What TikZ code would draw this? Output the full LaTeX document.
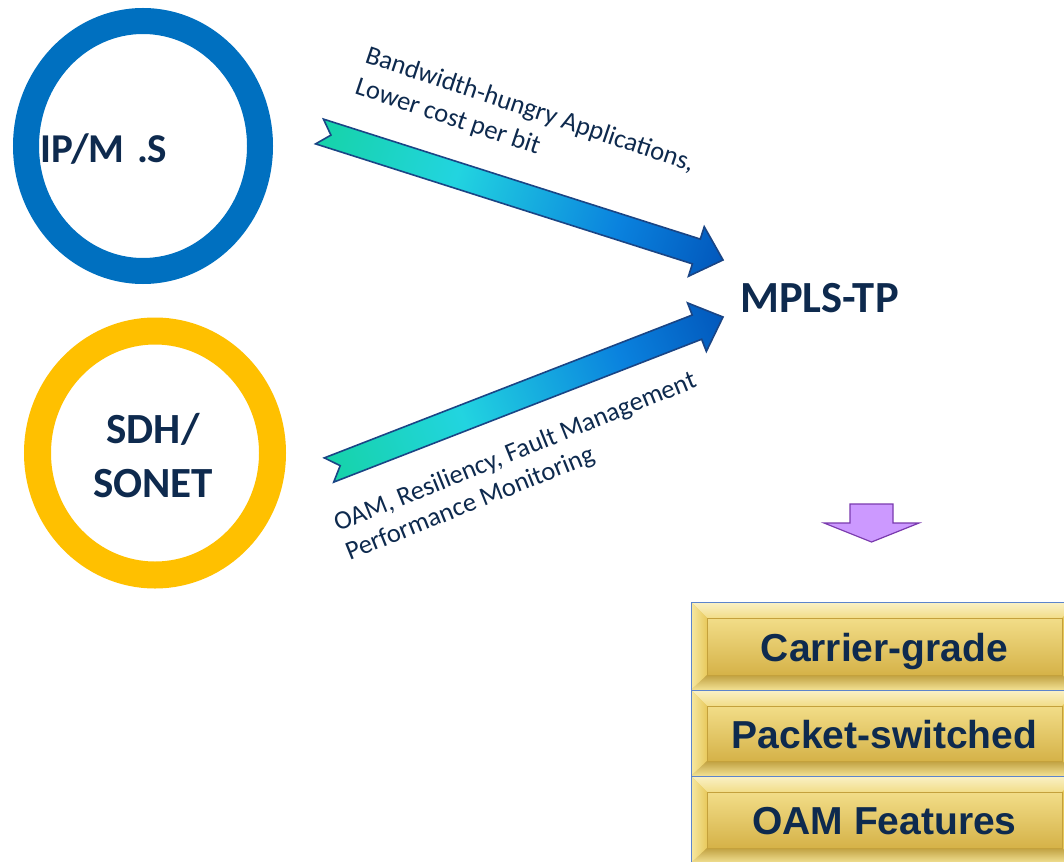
\documentclass[tikz,border=0pt]{standalone}
\usepackage{fontspec}
\usetikzlibrary{shapes.geometric,calc}
\newfontfamily\carlito{Carlito}
\newfontfamily\arialfont{Liberation Sans}

\definecolor{ringblue}{HTML}{0070C0}
\definecolor{ringgold}{HTML}{FFC000}
\definecolor{inkblue}{HTML}{0E2A4E}
\definecolor{gA}{HTML}{16D3A8}
\definecolor{gB}{HTML}{22D4E0}
\definecolor{gC}{HTML}{0A82DE}
\definecolor{gD}{HTML}{0258BC}
\definecolor{flowline}{HTML}{1A4585}
\definecolor{lilac}{HTML}{CC99FF}
\definecolor{lilacline}{HTML}{7A3AAE}
\definecolor{goldhi}{HTML}{F6E8A2}
\definecolor{goldtop}{HTML}{F2DD88}
\definecolor{goldface}{HTML}{E8C95C}
\definecolor{goldlow}{HTML}{D5B248}
\definecolor{goldedge}{HTML}{C4A13C}
\definecolor{boxline}{HTML}{5C84CC}

% colour ramp along the block arrows (path spans 25bp..75bp)
\pgfdeclarehorizontalshading{flowgrad}{100bp}{%
  color(0bp)=(gA); color(25bp)=(gA); color(42bp)=(gB);
  color(62bp)=(gC); color(75bp)=(gD); color(100bp)=(gD)}

\tikzset{
  ring/.style={ellipse, inner sep=0pt, fill=none},
  ringlabel/.style={font=\carlito\bfseries\fontsize{#1}{#1}\selectfont, text=inkblue, inner sep=0pt},
  note/.style={font=\carlito\fontsize{26.5}{32}\selectfont, text=inkblue, inner sep=0pt, anchor=base west},
  flow/.style={shading=flowgrad, draw=flowline, line width=1.6pt, line join=miter},
  goldbox/.style={rectangle, minimum width=387pt, minimum height=#1, inner sep=0pt,
    text height=30pt, text depth=0pt,
    draw=boxline, line width=1pt, fill=goldface,
    font=\arialfont\bfseries\fontsize{39}{47}\selectfont, text=inkblue,
    path picture={
      \coordinate (nw) at (path picture bounding box.north west);
      \coordinate (ne) at (path picture bounding box.north east);
      \coordinate (sw) at (path picture bounding box.south west);
      \coordinate (se) at (path picture bounding box.south east);
      \coordinate (inw) at ($(nw)+(16,16)$);
      \coordinate (ine) at ($(ne)+(-16,16)$);
      \coordinate (isw) at ($(sw)+(16,-15)$);
      \coordinate (ise) at ($(se)+(-16,-15)$);
      \shade[top color=goldhi!60!white, bottom color=goldtop] (nw)--(ne)--(ine)--(inw)--cycle;
      \shade[left color=goldhi, right color=goldface] (nw)--(inw)--(isw)--(sw)--cycle;
      \shade[left color=goldface, right color=goldlow] (ne)--(ine)--(ise)--(se)--cycle;
      \shade[top color=goldlow!90!black, bottom color=goldhi!80!goldface] (sw)--(isw)--(ise)--(se)--cycle;
      \shade[top color=goldtop, middle color=goldface, bottom color=goldlow] (inw) rectangle (ise);
      \draw[goldedge, line width=0.8pt] (inw) rectangle (ise);
    }},
}

\begin{document}
\begin{tikzpicture}[x=1pt, y=-1pt]
  \useasboundingbox (0,0) rectangle (1064,861);
  \clip (0,0) rectangle (1064,861);
  \fill[white] (0,0) rectangle (1064,861);

  % source technologies
  \node[ring, draw=ringblue, line width=26pt, minimum width=234pt, minimum height=250pt] (ipring) at (143,146) {};
  \node[ringlabel=41, anchor=base west] (iplabel) at (40,163) {IP/M\hspace{0.3em}.S};

  \node[ring, draw=ringgold, line width=27pt, minimum width=235pt, minimum height=244pt] (sdhring) at (155,453) {};
  \node[ringlabel=43, anchor=base] (sdh1) at (153,443) {SDH/};
  \node[ringlabel=43, anchor=base] (sdh2) at (153,497) {SONET};

  % result
  \node[ringlabel=44.5, anchor=base west] (mpls) at (740,312) {MPLS-TP};

  % block arrows towards MPLS-TP
  \coordinate (a1tail) at (319.5,131.5);
  \coordinate (a1tip)  at (723,260);
  \coordinate (a2tail) at (329,470);
  \coordinate (a2tip)  at (723,317);

  \begin{scope}[transform canvas={shift={(a1tail)}, rotate=-17.66}]
    \shadedraw[flow] (0,-13) -- (395.5,-13) -- (395.5,-26) -- (423.5,0)
      -- (395.5,26) -- (395.5,13) -- (0,13) -- (12,0) -- cycle;
  \end{scope}
  \begin{scope}[transform canvas={shift={(a2tail)}, rotate=21.22}]
    \shadedraw[flow] (0,-13) -- (394.7,-13) -- (394.7,-26) -- (422.7,0)
      -- (394.7,26) -- (394.7,13) -- (0,13) -- (12,0) -- cycle;
  \end{scope}

  \node[note, rotate=-18.5] (n1a) at (364,62) {Bandwidth-hungry Applications,};
  \node[note, rotate=-18.5] (n1b) at (353.6,93.2) {Lower cost per bit};
  \node[note, rotate=22] (n2a) at (338,532) {OAM, Resiliency, Fault Management};
  \node[note, rotate=22] (n2b) at (349.6,560.7) {Performance Monitoring};

  % down arrow
  \draw[fill=lilac, draw=lilacline, line width=1.2pt, line join=miter]
    (850,504) -- (893,504) -- (893,523) -- (919,523) -- (871.5,542)
    -- (824,523) -- (850,523) -- cycle;

  % feature stack
  \node[goldbox=88pt] (cg) at (884.5,646) {Carrier-grade};
  \node[goldbox=86pt] (ps) at (884.5,733) {Packet-switched};
  \node[goldbox=87pt] (oam) at (884.5,819.5) {OAM Features};
\end{tikzpicture}
\end{document}
